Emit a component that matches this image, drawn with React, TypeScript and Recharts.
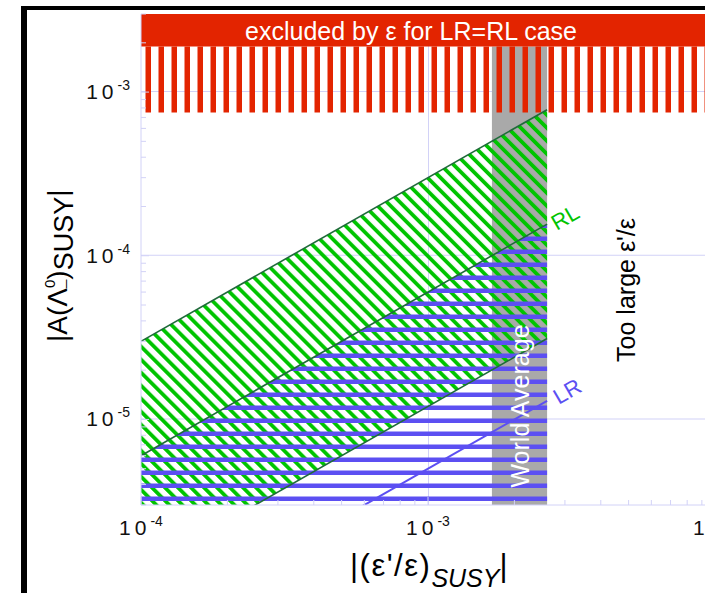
import { ComposedChart, Area, Line, XAxis, YAxis } from 'recharts'

const AXIS = '#d2d2f7'
const RED = '#e32400'
const GREEN = '#00c400'
const DARK_GREEN = '#1f6b3a'
const BLUE = '#5c4ff2'
const GRAY = '#a9a9a9'
const FONT = '"Liberation Sans", Arial, Helvetica, sans-serif'

// model bands, read at the left plot edge and at the right edge of the world average
const bandX = [1e-4, 2.6e-3]
const rlUpper = [3.0e-5, 7.8e-4]
const rlLower = [1.2e-6, 3.12e-5]
const lrUpper = [6.0e-6, 1.56e-4]
const lrFloor = [3e-6, 3e-6]
const lrLine = [5.0e-7, 1.3e-5]

// world average of eps'/eps
const worldAvgX = [1.67e-3, 2.6e-3]
const worldAvgY = [3e-6, 1.9e-3]

// excluded by eps
const excludedX = [1e-4, 1e-2]
const excludedHatchY = [7.5e-4, 1.9e-3]
const excludedSolidY = [1.9e-3, 3e-3]

const xDomain = [1e-4, 1e-2]
const yDomain = [3e-6, 3e-3]
const xTicks = [
  1e-4, 2e-4, 3e-4, 4e-4, 5e-4, 6e-4, 7e-4, 8e-4, 9e-4,
  1e-3, 2e-3, 3e-3, 4e-3, 5e-3, 6e-3, 7e-3, 8e-3, 9e-3, 1e-2,
]
const yTicks = [
  3e-6, 4e-6, 5e-6, 6e-6, 7e-6, 8e-6, 9e-6,
  1e-5, 2e-5, 3e-5, 4e-5, 5e-5, 6e-5, 7e-5, 8e-5, 9e-5,
  1e-4, 2e-4, 3e-4, 4e-4, 5e-4, 6e-4, 7e-4, 8e-4, 9e-4,
  1e-3, 2e-3, 3e-3,
]
// major grid: drawn as hairline bands so they stay beneath the hatching
const xGrid = [1e-3]
const yGrid = [1e-5, 1e-4, 1e-3]

const band = (xs: number[], lo: number[], hi: number[]) => xs.map((x, i) => ({ x, r: [lo[i], hi[i]] }))
const flat = (xs: number[], r: number[]) => xs.map(x => ({ x, r }))
const pts = (xs: number[], ys: number[]) => xs.map((x, i) => ({ x, y: ys[i] }))

function exponent(v: number) {
  const e = Math.round(Math.log10(v))
  return Math.abs(Math.log10(v) - e) < 1e-6 ? e : null
}

function XTick({ x, y, payload }: any) {
  const e = exponent(payload.value)
  return (
    <g>
      <line x1={x} x2={x} y1={y} y2={y - (e === null ? 5 : 8)} stroke={AXIS} />
      {e !== null && (
        <text x={x} y={y + 30} textAnchor="middle" fontFamily={FONT} fontSize={21} fill="#111">
          <tspan letterSpacing={4}>10</tspan>
          <tspan fontSize={14} dy={-9}>{e}</tspan>
        </text>
      )}
    </g>
  )
}

function YTick({ x, y, payload }: any) {
  const e = exponent(payload.value)
  return (
    <g>
      <line x1={x} x2={x + (e === null ? 5 : 8)} y1={y} y2={y} stroke={AXIS} />
      {e !== null && (
        <text x={x - 11} y={y + 7} textAnchor="end" fontFamily={FONT} fontSize={21} fill="#111">
          <tspan letterSpacing={4}>10</tspan>
          <tspan fontSize={14} dy={-9}>{e}</tspan>
        </text>
      )}
    </g>
  )
}

export default function App() {
  const common = { isAnimationActive: false, type: 'linear' as const }
  return (
    <div style={{ position: 'relative', width: 705, height: 593, overflow: 'hidden', background: '#fff' }}>
      <style>{'body{margin:0;overflow:hidden}'}</style>
      <ComposedChart width={730} height={593} margin={{ top: 14, right: 15, left: 0, bottom: 0 }}>
        <defs>
          <pattern id="redStripes" patternUnits="userSpaceOnUse" width={13} height={10}>
            <rect x={2.5} y={0} width={5.5} height={10} fill={RED} />
          </pattern>
          <pattern id="greenHatch" patternUnits="userSpaceOnUse" width={9.2} height={10} patternTransform="rotate(-45)">
            <rect x={0} y={0} width={3.8} height={10} fill={GREEN} />
          </pattern>
          <pattern id="blueLines" patternUnits="userSpaceOnUse" width={10} height={13}>
            <rect x={0} y={2.5} width={10} height={4.5} fill={BLUE} />
          </pattern>
        </defs>
        <XAxis
          dataKey="x"
          type="number"
          scale="log"
          domain={xDomain}
          allowDataOverflow
          ticks={xTicks}
          interval={0}
          height={88}
          tickSize={0}
          tickMargin={0}
          tickLine={false}
          axisLine={{ stroke: AXIS }}
          tick={<XTick />}
        />
        <YAxis
          type="number"
          scale="log"
          domain={yDomain}
          allowDataOverflow
          ticks={yTicks}
          interval={0}
          width={141}
          tickSize={0}
          tickMargin={0}
          tickLine={false}
          axisLine={{ stroke: AXIS }}
          tick={<YTick />}
        />

        {xGrid.map(v => (
          <Area key={'gx' + v} {...common} data={flat([v, v * 1.008], yDomain)} dataKey="r" stroke="none" fill={AXIS} fillOpacity={1} />
        ))}
        {yGrid.map(v => (
          <Area key={'gy' + v} {...common} data={flat(xDomain, [v, v * 1.014])} dataKey="r" stroke="none" fill={AXIS} fillOpacity={1} />
        ))}

        <Area {...common} data={flat(worldAvgX, worldAvgY)} dataKey="r" stroke="none" fill={GRAY} fillOpacity={1} />
        <Area {...common} data={flat(excludedX, excludedHatchY)} dataKey="r" stroke="none" fill="url(#redStripes)" fillOpacity={1} />
        <Area {...common} data={flat(excludedX, excludedSolidY)} dataKey="r" stroke="none" fill={RED} fillOpacity={1} />

        <Area {...common} data={band(bandX, rlLower, rlUpper)} dataKey="r" stroke="none" fill="url(#greenHatch)" fillOpacity={1} />
        <Area {...common} data={band(bandX, lrFloor, lrUpper)} dataKey="r" stroke="none" fill="url(#blueLines)" fillOpacity={1} />

        <Line {...common} data={pts(bandX, rlUpper)} dataKey="y" stroke={DARK_GREEN} strokeWidth={1.6} dot={false} activeDot={false} />
        <Line {...common} data={pts(bandX, rlLower)} dataKey="y" stroke={DARK_GREEN} strokeWidth={1.6} dot={false} activeDot={false} />
        <Line {...common} data={pts(bandX, lrUpper)} dataKey="y" stroke={DARK_GREEN} strokeWidth={1.6} dot={false} activeDot={false} />
        <Line {...common} data={pts(bandX, lrLine)} dataKey="y" stroke={BLUE} strokeWidth={2} dot={false} activeDot={false} />
      </ComposedChart>

      <svg width={705} height={593} style={{ position: 'absolute', left: 0, top: 0, pointerEvents: 'none' }} fontFamily={FONT}>
        <rect x={21} y={6} width={684} height={4} fill="#000" />
        <rect x={21} y={6} width={6} height={587} fill="#000" />

        <text x={411} y={40} textAnchor="middle" fontSize={25} fill="#fff">excluded by ε for LR=RL case</text>
        <text transform="translate(529,406) rotate(-90)" textAnchor="middle" fontSize={25} fill="#fff">World Average</text>
        <text transform="translate(635,290) rotate(-90)" textAnchor="middle" fontSize={25} fill="#000">Too large ε'/ε</text>
        <text transform="translate(565,217) rotate(-30)" y={8} textAnchor="middle" fontSize={22} fill={GREEN}>RL</text>
        <text transform="translate(567,391) rotate(-30)" y={8} textAnchor="middle" fontSize={22} fill={BLUE}>LR</text>

        <text x={350} y={576} fontSize={31} fill="#000">
          <tspan letterSpacing={1.5}>|(ε'/ε)</tspan>
          <tspan fontSize={25} fontStyle="italic" dy={11}>SUSY</tspan>
          <tspan dy={-11}>|</tspan>
        </text>

        <text transform="translate(67,342) rotate(-90)" fontSize={28} fill="#000">
          |A(Λ
          <tspan fontSize={15} dy={-12}>0</tspan>
          <tspan fontSize={15} dx={-8.3} dy={9}>_</tspan>
          <tspan dy={3}>)</tspan>
          <tspan fontSize={27} dy={6}>SUSY</tspan>
          <tspan dy={-6}>|</tspan>
        </text>
      </svg>
    </div>
  )
}
